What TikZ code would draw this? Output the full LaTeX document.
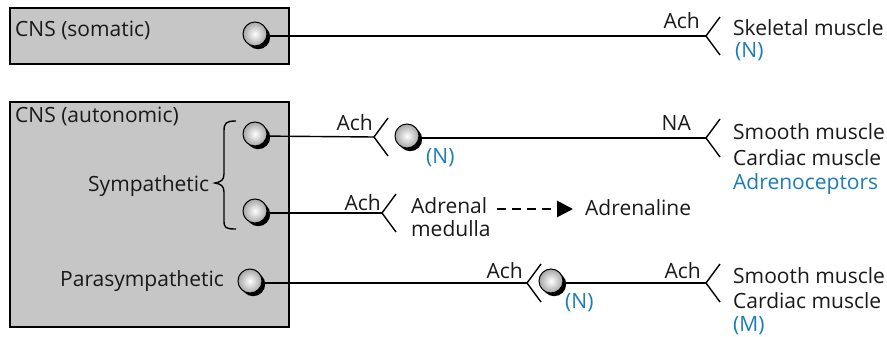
\documentclass[tikz,border=0pt]{standalone}
\usepackage{fontspec}
\setmainfont{Open Sans}
\usetikzlibrary{shadows,arrows.meta,calc}
\definecolor{boxgray}{HTML}{C6C6C6}
\definecolor{rblue}{HTML}{1A7DB8}
\tikzset{
  cnsbox/.style={draw=black, line width=1.6pt, fill=boxgray},
  lbl/.style={font=\fontsize{21}{24}\selectfont, inner sep=0pt, anchor=west, text=black!90},
  blbl/.style={lbl, text=rblue},
  ball/.style={circle, minimum size=24pt, inner sep=0pt, draw=black, line width=1pt,
     inner color=white, outer color=gray!70,
     drop shadow={shadow xshift=3.2pt, shadow yshift=-3.2pt, fill=black, opacity=1}},
  wire/.style={line width=1.4pt, black},
}
\newcommand{\fork}[1]{\draw[wire] ($(#1)+(14,-19)$) -- (#1) -- ($(#1)+(14,19)$);}
\begin{document}
\begin{tikzpicture}[x=1pt,y=-1pt]
\useasboundingbox (0,0) rectangle (887,337);
% boxes
\draw[cnsbox] (10,8) rectangle (289,64);
\draw[cnsbox] (10,102) rectangle (289,327);
\node[lbl] (somatic) at (15,30) {CNS (somatic)};
\node[lbl] (autonomic) at (15,116) {CNS (autonomic)};
\node[lbl] (symp) at (88,186) {Sympathetic};
\node[lbl] (para) at (60,281) {Parasympathetic};
% brace
\draw[wire] (236,121) .. controls (226,121) and (224,123) .. (224,131) -- (224,174)
  .. controls (224,180) and (221,182) .. (215,183)
  .. controls (221,184) and (224,186) .. (224,192) -- (224,221)
  .. controls (224,228) and (226,229) .. (236,229);
% somatic
\coordinate (f0) at (706,36);
\draw[wire] (257,36) -- (f0);
\node[ball] (b0) at (255,34) {};
\fork{f0}
\node[lbl, anchor=east] (ach0) at (700,21) {Ach};
\node[lbl] (skel) at (733,28) {Skeletal muscle};
\node[blbl] (n0) at (735,52) {(N)};
% sympathetic 1
\coordinate (f1) at (374,137);
\coordinate (f2) at (706,138);
\draw[wire] (257,136) -- (f1);
\draw[wire] (410,138) -- (f2);
\node[ball] (b1) at (255,134) {};
\node[ball] (b2) at (407,136) {};
\fork{f1}
\fork{f2}
\node[lbl, anchor=east] (ach1) at (373,123) {Ach};
\node[blbl] (n1) at (426,158) {(N)};
\node[lbl, anchor=east] (na) at (691,123) {NA};
\node[lbl] (sm1) at (733,132) {Smooth muscle};
\node[lbl] (cm1) at (733,158) {Cardiac muscle};
\node[blbl] (adr) at (733,184) {Adrenoceptors};
% sympathetic 2
\coordinate (f3) at (382,213);
\draw[wire] (257,213) -- (f3);
\node[ball] (b3) at (255,211) {};
\fork{f3}
\node[lbl, anchor=east] (ach2) at (381,203) {Ach};
\node[lbl] (adm) at (411,206) {Adrenal};
\node[lbl] (med) at (411,229) {medulla};
\node[lbl] (adrl) at (585,208) {Adrenaline};
\coordinate (d0) at (497,209);
\coordinate (d1) at (573,209);
\draw[line width=2.8pt, dash pattern=on 9pt off 6pt, -{Triangle[length=16pt,width=16pt]}] (d0) -- (d1);
% parasympathetic
\coordinate (f4) at (527,283);
\coordinate (f5) at (706,283);
\draw[wire] (252,283) -- (f4);
\draw[wire] (553,283) -- (f5);
\node[ball] (b4) at (250,281) {};
\fork{f4}
\node[ball] (b5) at (551,281) {};
\fork{f5}
\node[lbl, anchor=east] (ach3) at (523,271) {Ach};
\node[lbl, anchor=east] (ach4) at (701,271) {Ach};
\node[blbl] (n2) at (565,303) {(N)};
\node[lbl] (sm2) at (733,276) {Smooth muscle};
\node[lbl] (cm2) at (733,301) {Cardiac muscle};
\node[blbl] (m) at (733,326) {(M)};
\end{tikzpicture}
\end{document}
